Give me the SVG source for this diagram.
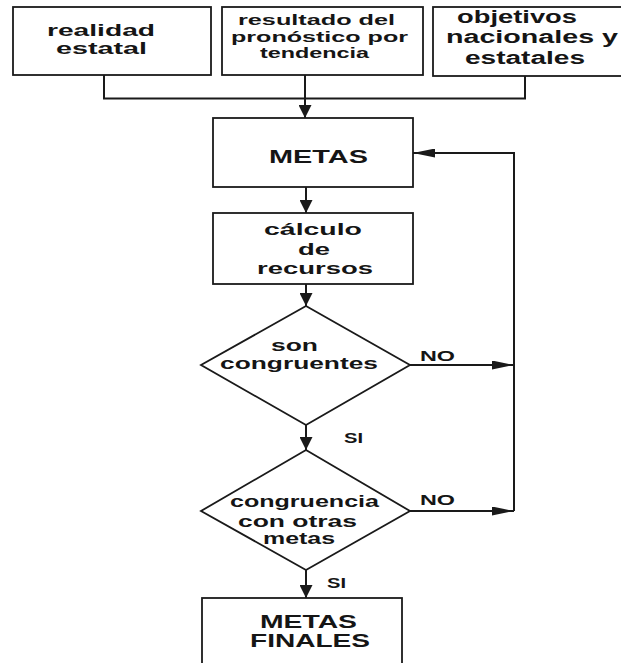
<svg xmlns="http://www.w3.org/2000/svg" width="621" height="663" viewBox="0 0 621 663">
<style>
.box{fill:#fff;stroke:#1a1a1a;stroke-width:1.8}
.t{font-family:"Liberation Sans",Arial,sans-serif;font-weight:bold;fill:#151515;text-anchor:middle}
.c{fill:none;stroke:#1a1a1a;stroke-width:2}
</style>
<defs>
<marker id="arrV" markerUnits="userSpaceOnUse" markerWidth="13" markerHeight="13" viewBox="0 0 13 13" refX="13" refY="6.5" orient="auto"><path d="M0,0 L13,6.5 L0,13 z" fill="#1a1a1a"/></marker>
<marker id="arrH" markerUnits="userSpaceOnUse" markerWidth="22" markerHeight="9" viewBox="0 0 22 9" refX="22" refY="4.5" orient="auto"><path d="M0,0 L22,4.5 L0,9 z" fill="#1a1a1a"/></marker>
</defs>
<rect width="621" height="663" fill="#fff"/>
<g id="connectors">
<path class="c" d="M104,75 V98.5 H525 V76"/>
<path class="c" d="M305,75 V118" marker-end="url(#arrV)"/>
<path class="c" d="M306,187 V213" marker-end="url(#arrV)"/>
<path class="c" d="M306,284 V306" marker-end="url(#arrV)"/>
<path class="c" d="M306,425 V450" marker-end="url(#arrV)"/>
<path class="c" d="M306,570 V598" marker-end="url(#arrV)"/>
<path class="c" d="M410,365 H514" marker-end="url(#arrH)"/>
<path class="c" d="M410,511 H514" marker-end="url(#arrH)"/>
<path class="c" d="M514,511 V153 H413" marker-end="url(#arrH)"/>
<text class="t" x="437.5" y="361" font-size="15" textLength="35" lengthAdjust="spacingAndGlyphs">NO</text>
<text class="t" x="353.5" y="443" font-size="14" textLength="19" lengthAdjust="spacingAndGlyphs">SI</text>
<text class="t" x="437.5" y="505" font-size="15" textLength="35" lengthAdjust="spacingAndGlyphs">NO</text>
<text class="t" x="336.5" y="588" font-size="14" textLength="19" lengthAdjust="spacingAndGlyphs">SI</text>
</g>
<g id="realidad">
<rect class="box" x="13" y="7" width="198" height="68"/>
<text class="t" x="101" y="36" font-size="17" textLength="108" lengthAdjust="spacingAndGlyphs">realidad</text>
<text class="t" x="101.5" y="53.5" font-size="17" textLength="91" lengthAdjust="spacingAndGlyphs">estatal</text>
</g>
<g id="resultado">
<rect class="box" x="222" y="7" width="201" height="68"/>
<text class="t" x="316.5" y="25" font-size="15.5" textLength="157" lengthAdjust="spacingAndGlyphs">resultado del</text>
<text class="t" x="319.5" y="42" font-size="15.5" textLength="177" lengthAdjust="spacingAndGlyphs">pronóstico por</text>
<text class="t" x="314.5" y="58" font-size="15.5" textLength="109" lengthAdjust="spacingAndGlyphs">tendencia</text>
</g>
<g id="objetivos">
<rect class="box" x="433" y="7" width="200" height="69"/>
<text class="t" x="517" y="23" font-size="18" textLength="120" lengthAdjust="spacingAndGlyphs">objetivos</text>
<text class="t" x="532" y="43" font-size="18" textLength="172" lengthAdjust="spacingAndGlyphs">nacionales y</text>
<text class="t" x="525" y="64" font-size="18" textLength="120" lengthAdjust="spacingAndGlyphs">estatales</text>
</g>
<g id="metas">
<rect class="box" x="213" y="118" width="200" height="69"/>
<text class="t" x="318.5" y="163" font-size="18.5" textLength="99" lengthAdjust="spacingAndGlyphs">METAS</text>
</g>
<g id="calculo">
<rect class="box" x="213" y="213" width="200" height="71"/>
<text class="t" x="313" y="235" font-size="17" textLength="98" lengthAdjust="spacingAndGlyphs">cálculo</text>
<text class="t" x="314" y="255" font-size="17" textLength="32" lengthAdjust="spacingAndGlyphs">de</text>
<text class="t" x="315" y="274" font-size="17" textLength="116" lengthAdjust="spacingAndGlyphs">recursos</text>
</g>
<g id="son-congruentes">
<polygon class="box" points="306,306 410,365 306,425 201,365"/>
<text class="t" x="294.5" y="351" font-size="17" textLength="47" lengthAdjust="spacingAndGlyphs">son</text>
<text class="t" x="299" y="369" font-size="17" textLength="158" lengthAdjust="spacingAndGlyphs">congruentes</text>
</g>
<g id="congruencia">
<polygon class="box" points="306,450 410,511 306,570 201,511"/>
<text class="t" x="304.5" y="507" font-size="16" textLength="149" lengthAdjust="spacingAndGlyphs">congruencia</text>
<text class="t" x="297.5" y="527" font-size="16" textLength="119" lengthAdjust="spacingAndGlyphs">con otras</text>
<text class="t" x="299" y="544" font-size="16" textLength="72" lengthAdjust="spacingAndGlyphs">metas</text>
</g>
<g id="metas-finales">
<rect class="box" x="202" y="598" width="200" height="80"/>
<text class="t" x="308.5" y="628" font-size="17.5" textLength="97" lengthAdjust="spacingAndGlyphs">METAS</text>
<text class="t" x="310" y="647" font-size="17.5" textLength="120" lengthAdjust="spacingAndGlyphs">FINALES</text>
</g>
</svg>
